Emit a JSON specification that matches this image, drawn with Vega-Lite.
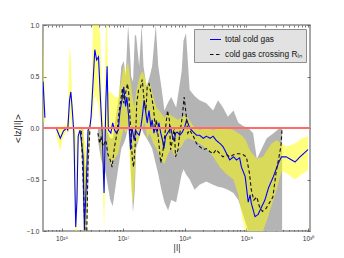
{
  "$schema": "https://vega.github.io/schema/vega-lite/v6.json",
  "width": 267,
  "height": 206,
  "autosize": {"type": "none"},
  "padding": {"left": 43, "top": 25, "right": 34, "bottom": 27},
  "datasets": {
    "grayband": [
      {"l": 2.089e26, "lo": -0.05, "hi": 0.0, "seg": 1},
      {"l": 2.239e26, "lo": -0.75, "hi": 0.0, "seg": 1},
      {"l": 2.399e26, "lo": -1.0, "hi": -0.35, "seg": 1},
      {"l": 2.570e26, "lo": -1.0, "hi": -0.4, "seg": 1},
      {"l": 2.692e26, "lo": -0.6, "hi": 0.0, "seg": 1},
      {"l": 2.884e26, "lo": -0.05, "hi": 0.0, "seg": 1},
      {"l": 3.890e26, "lo": -0.12, "hi": 0.0, "seg": 2},
      {"l": 4.365e26, "lo": -0.3, "hi": 0.0, "seg": 2},
      {"l": 5.248e26, "lo": -0.45, "hi": 0.0, "seg": 2},
      {"l": 6.166e26, "lo": -0.7, "hi": -0.1, "seg": 2},
      {"l": 6.761e26, "lo": -0.76, "hi": -0.1, "seg": 2},
      {"l": 7.586e26, "lo": -0.55, "hi": 0.1, "seg": 2},
      {"l": 8.511e26, "lo": -0.35, "hi": 0.3, "seg": 2},
      {"l": 9.333e26, "lo": -0.2, "hi": 0.6, "seg": 2},
      {"l": 1.023e27, "lo": -0.15, "hi": 0.65, "seg": 2},
      {"l": 1.096e27, "lo": -0.1, "hi": 0.5, "seg": 2},
      {"l": 1.202e27, "lo": 0.0, "hi": 1.0, "seg": 2},
      {"l": 1.288e27, "lo": -0.2, "hi": 0.75, "seg": 2},
      {"l": 1.349e27, "lo": -0.5, "hi": 0.5, "seg": 2},
      {"l": 1.445e27, "lo": -0.82, "hi": 0.45, "seg": 2},
      {"l": 1.549e27, "lo": -0.6, "hi": 0.9, "seg": 2},
      {"l": 1.622e27, "lo": -0.2, "hi": 0.9, "seg": 2},
      {"l": 1.820e27, "lo": -0.1, "hi": 0.6, "seg": 2},
      {"l": 1.995e27, "lo": 0.0, "hi": 1.0, "seg": 2},
      {"l": 2.138e27, "lo": -0.05, "hi": 0.6, "seg": 2},
      {"l": 2.399e27, "lo": -0.1, "hi": 0.4, "seg": 2},
      {"l": 2.692e27, "lo": -0.15, "hi": 0.5, "seg": 2},
      {"l": 2.951e27, "lo": -0.2, "hi": 0.6, "seg": 2},
      {"l": 3.388e27, "lo": -0.35, "hi": 1.0, "seg": 2},
      {"l": 3.715e27, "lo": -0.45, "hi": 0.6, "seg": 2},
      {"l": 4.169e27, "lo": -0.6, "hi": 0.4, "seg": 2},
      {"l": 4.677e27, "lo": -0.72, "hi": 0.17, "seg": 2},
      {"l": 5.370e27, "lo": -0.8, "hi": 0.25, "seg": 2},
      {"l": 6.026e27, "lo": -0.7, "hi": 0.3, "seg": 2},
      {"l": 7.244e27, "lo": -0.72, "hi": 0.2, "seg": 2},
      {"l": 8.913e27, "lo": -0.45, "hi": 0.55, "seg": 2},
      {"l": 9.550e27, "lo": -0.4, "hi": 0.85, "seg": 2},
      {"l": 1.047e28, "lo": -0.45, "hi": 0.92, "seg": 2},
      {"l": 1.202e28, "lo": -0.5, "hi": 0.37, "seg": 2},
      {"l": 1.445e28, "lo": -0.6, "hi": 0.31, "seg": 2},
      {"l": 1.738e28, "lo": -0.55, "hi": 0.27, "seg": 2},
      {"l": 2.239e28, "lo": -0.52, "hi": 0.24, "seg": 2},
      {"l": 2.884e28, "lo": -0.55, "hi": 0.17, "seg": 2},
      {"l": 3.467e28, "lo": -0.57, "hi": 0.27, "seg": 2},
      {"l": 4.169e28, "lo": -0.58, "hi": 0.2, "seg": 2},
      {"l": 5.012e28, "lo": -0.6, "hi": 0.11, "seg": 2},
      {"l": 6.166e28, "lo": -0.63, "hi": 0.17, "seg": 2},
      {"l": 7.413e28, "lo": -0.7, "hi": 0.05, "seg": 2},
      {"l": 8.913e28, "lo": -0.85, "hi": 0.02, "seg": 2},
      {"l": 1.072e29, "lo": -1.0, "hi": 0.0, "seg": 2},
      {"l": 1.288e29, "lo": -1.0, "hi": -0.05, "seg": 2},
      {"l": 1.479e29, "lo": -1.0, "hi": -0.3, "seg": 2},
      {"l": 1.778e29, "lo": -1.0, "hi": -0.2, "seg": 2},
      {"l": 2.138e29, "lo": -1.0, "hi": -0.1, "seg": 2},
      {"l": 2.754e29, "lo": -1.0, "hi": -0.05, "seg": 2},
      {"l": 3.467e29, "lo": -1.0, "hi": 0.0, "seg": 2},
      {"l": 3.802e29, "lo": -1.0, "hi": 0.0, "seg": 2}
    ],
    "yellowband": [
      {"l": 5.012e25, "lo": 0.05, "hi": 1.0, "seg": 1},
      {"l": 5.370e25, "lo": 0.05, "hi": 0.25, "seg": 1},
      {"l": 8.318e25, "lo": -0.08, "hi": 0.03, "seg": 2},
      {"l": 9.550e25, "lo": -0.22, "hi": 0.0, "seg": 2},
      {"l": 1.072e26, "lo": -0.08, "hi": 0.02, "seg": 2},
      {"l": 1.202e26, "lo": -0.03, "hi": 0.03, "seg": 2},
      {"l": 1.259e26, "lo": -0.05, "hi": 0.1, "seg": 2},
      {"l": 1.349e26, "lo": 0.0, "hi": 0.8, "seg": 2},
      {"l": 1.413e26, "lo": 0.1, "hi": 0.7, "seg": 2},
      {"l": 1.479e26, "lo": -0.05, "hi": 0.35, "seg": 2},
      {"l": 1.585e26, "lo": -0.2, "hi": 0.02, "seg": 2},
      {"l": 1.660e26, "lo": -1.0, "hi": 0.0, "seg": 2},
      {"l": 1.778e26, "lo": -1.0, "hi": -0.2, "seg": 2},
      {"l": 1.862e26, "lo": -0.2, "hi": 0.0, "seg": 2},
      {"l": 1.995e26, "lo": -0.08, "hi": 0.02, "seg": 2},
      {"l": 2.239e26, "lo": -0.6, "hi": 0.0, "seg": 2},
      {"l": 2.344e26, "lo": -1.0, "hi": -0.1, "seg": 2},
      {"l": 2.570e26, "lo": -1.0, "hi": -0.2, "seg": 2},
      {"l": 2.692e26, "lo": -0.3, "hi": 0.02, "seg": 2},
      {"l": 2.884e26, "lo": -0.05, "hi": 0.05, "seg": 2},
      {"l": 3.020e26, "lo": 0.0, "hi": 0.25, "seg": 2},
      {"l": 3.236e26, "lo": 0.15, "hi": 1.0, "seg": 2},
      {"l": 3.467e26, "lo": 0.3, "hi": 1.0, "seg": 2},
      {"l": 3.715e26, "lo": 0.3, "hi": 1.0, "seg": 2},
      {"l": 3.981e26, "lo": 0.2, "hi": 1.0, "seg": 2},
      {"l": 4.266e26, "lo": 0.0, "hi": 0.9, "seg": 2},
      {"l": 4.571e26, "lo": -0.4, "hi": 0.2, "seg": 2},
      {"l": 4.898e26, "lo": -1.0, "hi": 0.0, "seg": 2},
      {"l": 5.248e26, "lo": -0.2, "hi": 1.0, "seg": 2},
      {"l": 5.495e26, "lo": 0.0, "hi": 1.0, "seg": 2},
      {"l": 5.754e26, "lo": -0.3, "hi": 0.35, "seg": 2},
      {"l": 6.310e26, "lo": -0.35, "hi": 0.35, "seg": 2},
      {"l": 7.244e26, "lo": -0.3, "hi": 0.3, "seg": 2},
      {"l": 8.318e26, "lo": -0.25, "hi": 0.3, "seg": 2},
      {"l": 8.913e26, "lo": -0.15, "hi": 0.4, "seg": 2},
      {"l": 1.023e27, "lo": 0.0, "hi": 0.6, "seg": 2},
      {"l": 1.096e27, "lo": -0.05, "hi": 0.55, "seg": 2},
      {"l": 1.202e27, "lo": 0.0, "hi": 0.65, "seg": 2},
      {"l": 1.318e27, "lo": -0.45, "hi": 0.45, "seg": 2},
      {"l": 1.413e27, "lo": -0.75, "hi": 0.3, "seg": 2},
      {"l": 1.514e27, "lo": -0.6, "hi": 0.2, "seg": 2},
      {"l": 1.622e27, "lo": -0.15, "hi": 0.35, "seg": 2},
      {"l": 1.862e27, "lo": -0.1, "hi": 0.5, "seg": 2},
      {"l": 2.042e27, "lo": 0.0, "hi": 0.55, "seg": 2},
      {"l": 2.239e27, "lo": 0.05, "hi": 0.5, "seg": 2},
      {"l": 2.455e27, "lo": -0.1, "hi": 0.4, "seg": 2},
      {"l": 2.692e27, "lo": -0.05, "hi": 0.45, "seg": 2},
      {"l": 3.090e27, "lo": -0.15, "hi": 0.3, "seg": 2},
      {"l": 3.467e27, "lo": -0.2, "hi": 0.2, "seg": 2},
      {"l": 4.074e27, "lo": -0.3, "hi": 0.15, "seg": 2},
      {"l": 4.677e27, "lo": -0.35, "hi": 0.1, "seg": 2},
      {"l": 5.370e27, "lo": -0.25, "hi": 0.15, "seg": 2},
      {"l": 6.026e27, "lo": -0.2, "hi": 0.12, "seg": 2},
      {"l": 6.918e27, "lo": -0.28, "hi": 0.1, "seg": 2},
      {"l": 7.762e27, "lo": -0.2, "hi": 0.08, "seg": 2},
      {"l": 8.913e27, "lo": -0.18, "hi": 0.1, "seg": 2},
      {"l": 1.000e28, "lo": -0.12, "hi": 0.12, "seg": 2},
      {"l": 1.122e28, "lo": -0.1, "hi": 0.1, "seg": 2},
      {"l": 1.380e28, "lo": -0.12, "hi": 0.02, "seg": 2},
      {"l": 1.738e28, "lo": -0.15, "hi": -0.02, "seg": 2},
      {"l": 2.239e28, "lo": -0.2, "hi": 0.0, "seg": 2},
      {"l": 2.884e28, "lo": -0.28, "hi": -0.02, "seg": 2},
      {"l": 3.715e28, "lo": -0.38, "hi": 0.0, "seg": 2},
      {"l": 4.786e28, "lo": -0.45, "hi": 0.0, "seg": 2},
      {"l": 6.166e28, "lo": -0.5, "hi": -0.02, "seg": 2},
      {"l": 7.413e28, "lo": -0.65, "hi": -0.05, "seg": 2},
      {"l": 8.710e28, "lo": -0.9, "hi": -0.08, "seg": 2},
      {"l": 9.772e28, "lo": -1.0, "hi": -0.12, "seg": 2},
      {"l": 1.148e29, "lo": -1.0, "hi": -0.22, "seg": 2},
      {"l": 1.479e29, "lo": -1.0, "hi": -0.3, "seg": 2},
      {"l": 1.862e29, "lo": -1.0, "hi": -0.28, "seg": 2},
      {"l": 2.138e29, "lo": -0.9, "hi": -0.22, "seg": 2},
      {"l": 2.570e29, "lo": -0.75, "hi": -0.15, "seg": 2},
      {"l": 3.090e29, "lo": -0.6, "hi": -0.12, "seg": 2},
      {"l": 3.715e29, "lo": -0.42, "hi": -0.15, "seg": 2},
      {"l": 4.467e29, "lo": -0.44, "hi": -0.18, "seg": 2},
      {"l": 6.166e29, "lo": -0.5, "hi": -0.15, "seg": 2},
      {"l": 7.943e29, "lo": -0.45, "hi": -0.1, "seg": 2},
      {"l": 1.000e30, "lo": -0.41, "hi": -0.08, "seg": 2}
    ],
    "lines": [
      {"l": 5.012e25, "v": 0.45, "s": "total cold gas", "seg": 1},
      {"l": 5.370e25, "v": 0.10, "s": "total cold gas", "seg": 1},
      {"l": 8.318e25, "v": -0.01, "s": "total cold gas", "seg": 2},
      {"l": 9.550e25, "v": -0.10, "s": "total cold gas", "seg": 2},
      {"l": 1.072e26, "v": -0.03, "s": "total cold gas", "seg": 2},
      {"l": 1.202e26, "v": 0.0, "s": "total cold gas", "seg": 2},
      {"l": 1.259e26, "v": -0.02, "s": "total cold gas", "seg": 2},
      {"l": 1.349e26, "v": 0.27, "s": "total cold gas", "seg": 2},
      {"l": 1.413e26, "v": 0.35, "s": "total cold gas", "seg": 2},
      {"l": 1.479e26, "v": 0.21, "s": "total cold gas", "seg": 2},
      {"l": 1.585e26, "v": -0.05, "s": "total cold gas", "seg": 2},
      {"l": 1.698e26, "v": -0.96, "s": "total cold gas", "seg": 2},
      {"l": 1.778e26, "v": -0.70, "s": "total cold gas", "seg": 2},
      {"l": 1.862e26, "v": -0.08, "s": "total cold gas", "seg": 2},
      {"l": 1.995e26, "v": -0.02, "s": "total cold gas", "seg": 2},
      {"l": 2.239e26, "v": -0.28, "s": "total cold gas", "seg": 2},
      {"l": 2.344e26, "v": -0.99, "s": "total cold gas", "seg": 2},
      {"l": 2.512e26, "v": -0.57, "s": "total cold gas", "seg": 2},
      {"l": 2.692e26, "v": -0.02, "s": "total cold gas", "seg": 2},
      {"l": 2.884e26, "v": 0.01, "s": "total cold gas", "seg": 2},
      {"l": 3.020e26, "v": 0.11, "s": "total cold gas", "seg": 2},
      {"l": 3.236e26, "v": 0.43, "s": "total cold gas", "seg": 2},
      {"l": 3.467e26, "v": 0.76, "s": "total cold gas", "seg": 2},
      {"l": 3.715e26, "v": 0.66, "s": "total cold gas", "seg": 2},
      {"l": 3.981e26, "v": 0.69, "s": "total cold gas", "seg": 2},
      {"l": 4.266e26, "v": 0.30, "s": "total cold gas", "seg": 2},
      {"l": 4.571e26, "v": -0.05, "s": "total cold gas", "seg": 2},
      {"l": 4.898e26, "v": -0.63, "s": "total cold gas", "seg": 2},
      {"l": 5.248e26, "v": 0.27, "s": "total cold gas", "seg": 2},
      {"l": 5.495e26, "v": 0.60, "s": "total cold gas", "seg": 2},
      {"l": 5.754e26, "v": -0.02, "s": "total cold gas", "seg": 2},
      {"l": 6.310e26, "v": -0.05, "s": "total cold gas", "seg": 2},
      {"l": 6.761e26, "v": 0.05, "s": "total cold gas", "seg": 2},
      {"l": 7.244e26, "v": -0.02, "s": "total cold gas", "seg": 2},
      {"l": 7.762e26, "v": -0.05, "s": "total cold gas", "seg": 2},
      {"l": 8.318e26, "v": -0.02, "s": "total cold gas", "seg": 2},
      {"l": 8.913e26, "v": 0.17, "s": "total cold gas", "seg": 2},
      {"l": 9.550e26, "v": 0.27, "s": "total cold gas", "seg": 2},
      {"l": 1.023e27, "v": 0.40, "s": "total cold gas", "seg": 2},
      {"l": 1.096e27, "v": 0.21, "s": "total cold gas", "seg": 2},
      {"l": 1.148e27, "v": 0.30, "s": "total cold gas", "seg": 2},
      {"l": 1.230e27, "v": 0.11, "s": "total cold gas", "seg": 2},
      {"l": 1.318e27, "v": -0.21, "s": "total cold gas", "seg": 2},
      {"l": 1.380e27, "v": 0.01, "s": "total cold gas", "seg": 2},
      {"l": 1.514e27, "v": -0.12, "s": "total cold gas", "seg": 2},
      {"l": 1.585e27, "v": -0.02, "s": "total cold gas", "seg": 2},
      {"l": 1.698e27, "v": -0.05, "s": "total cold gas", "seg": 2},
      {"l": 1.820e27, "v": -0.07, "s": "total cold gas", "seg": 2},
      {"l": 1.905e27, "v": -0.02, "s": "total cold gas", "seg": 2},
      {"l": 2.042e27, "v": 0.11, "s": "total cold gas", "seg": 2},
      {"l": 2.188e27, "v": 0.27, "s": "total cold gas", "seg": 2},
      {"l": 2.344e27, "v": 0.14, "s": "total cold gas", "seg": 2},
      {"l": 2.455e27, "v": 0.05, "s": "total cold gas", "seg": 2},
      {"l": 2.630e27, "v": 0.17, "s": "total cold gas", "seg": 2},
      {"l": 2.818e27, "v": 0.01, "s": "total cold gas", "seg": 2},
      {"l": 2.951e27, "v": 0.08, "s": "total cold gas", "seg": 2},
      {"l": 3.162e27, "v": -0.05, "s": "total cold gas", "seg": 2},
      {"l": 3.311e27, "v": 0.01, "s": "total cold gas", "seg": 2},
      {"l": 3.548e27, "v": -0.04, "s": "total cold gas", "seg": 2},
      {"l": 3.802e27, "v": 0.05, "s": "total cold gas", "seg": 2},
      {"l": 4.074e27, "v": -0.05, "s": "total cold gas", "seg": 2},
      {"l": 4.365e27, "v": -0.12, "s": "total cold gas", "seg": 2},
      {"l": 4.571e27, "v": -0.20, "s": "total cold gas", "seg": 2},
      {"l": 4.898e27, "v": -0.08, "s": "total cold gas", "seg": 2},
      {"l": 5.248e27, "v": -0.05, "s": "total cold gas", "seg": 2},
      {"l": 5.623e27, "v": -0.02, "s": "total cold gas", "seg": 2},
      {"l": 5.888e27, "v": 0.01, "s": "total cold gas", "seg": 2},
      {"l": 6.310e27, "v": -0.08, "s": "total cold gas", "seg": 2},
      {"l": 6.761e27, "v": -0.13, "s": "total cold gas", "seg": 2},
      {"l": 7.079e27, "v": -0.05, "s": "total cold gas", "seg": 2},
      {"l": 7.586e27, "v": -0.04, "s": "total cold gas", "seg": 2},
      {"l": 8.318e27, "v": -0.07, "s": "total cold gas", "seg": 2},
      {"l": 9.120e27, "v": -0.04, "s": "total cold gas", "seg": 2},
      {"l": 1.000e28, "v": 0.01, "s": "total cold gas", "seg": 2},
      {"l": 1.072e28, "v": 0.08, "s": "total cold gas", "seg": 2},
      {"l": 1.122e28, "v": 0.05, "s": "total cold gas", "seg": 2},
      {"l": 1.202e28, "v": 0.0, "s": "total cold gas", "seg": 2},
      {"l": 1.380e28, "v": -0.04, "s": "total cold gas", "seg": 2},
      {"l": 1.549e28, "v": -0.07, "s": "total cold gas", "seg": 2},
      {"l": 1.738e28, "v": -0.07, "s": "total cold gas", "seg": 2},
      {"l": 1.995e28, "v": -0.10, "s": "total cold gas", "seg": 2},
      {"l": 2.239e28, "v": -0.08, "s": "total cold gas", "seg": 2},
      {"l": 2.570e28, "v": -0.10, "s": "total cold gas", "seg": 2},
      {"l": 2.884e28, "v": -0.08, "s": "total cold gas", "seg": 2},
      {"l": 3.236e28, "v": -0.12, "s": "total cold gas", "seg": 2},
      {"l": 3.715e28, "v": -0.15, "s": "total cold gas", "seg": 2},
      {"l": 4.169e28, "v": -0.18, "s": "total cold gas", "seg": 2},
      {"l": 4.786e28, "v": -0.25, "s": "total cold gas", "seg": 2},
      {"l": 5.370e28, "v": -0.31, "s": "total cold gas", "seg": 2},
      {"l": 6.166e28, "v": -0.28, "s": "total cold gas", "seg": 2},
      {"l": 6.918e28, "v": -0.31, "s": "total cold gas", "seg": 2},
      {"l": 7.762e28, "v": -0.29, "s": "total cold gas", "seg": 2},
      {"l": 8.318e28, "v": -0.38, "s": "total cold gas", "seg": 2},
      {"l": 9.550e28, "v": -0.47, "s": "total cold gas", "seg": 2},
      {"l": 1.072e29, "v": -0.72, "s": "total cold gas", "seg": 2},
      {"l": 1.148e29, "v": -0.65, "s": "total cold gas", "seg": 2},
      {"l": 1.202e29, "v": -0.73, "s": "total cold gas", "seg": 2},
      {"l": 1.380e29, "v": -0.86, "s": "total cold gas", "seg": 2},
      {"l": 1.549e29, "v": -0.84, "s": "total cold gas", "seg": 2},
      {"l": 1.660e29, "v": -0.80, "s": "total cold gas", "seg": 2},
      {"l": 1.995e29, "v": -0.70, "s": "total cold gas", "seg": 2},
      {"l": 2.291e29, "v": -0.58, "s": "total cold gas", "seg": 2},
      {"l": 2.754e29, "v": -0.47, "s": "total cold gas", "seg": 2},
      {"l": 3.311e29, "v": -0.34, "s": "total cold gas", "seg": 2},
      {"l": 3.715e29, "v": -0.28, "s": "total cold gas", "seg": 2},
      {"l": 4.467e29, "v": -0.28, "s": "total cold gas", "seg": 2},
      {"l": 6.166e29, "v": -0.33, "s": "total cold gas", "seg": 2},
      {"l": 7.413e29, "v": -0.28, "s": "total cold gas", "seg": 2},
      {"l": 1.000e30, "v": -0.21, "s": "total cold gas", "seg": 2},
      {"l": 2.089e26, "v": -0.03, "s": "cold gas crossing Rᵢₙ", "seg": 3},
      {"l": 2.239e26, "v": -0.50, "s": "cold gas crossing Rᵢₙ", "seg": 3},
      {"l": 2.399e26, "v": -1.0, "s": "cold gas crossing Rᵢₙ", "seg": 3},
      {"l": 2.570e26, "v": -1.0, "s": "cold gas crossing Rᵢₙ", "seg": 3},
      {"l": 2.692e26, "v": -0.31, "s": "cold gas crossing Rᵢₙ", "seg": 3},
      {"l": 2.884e26, "v": -0.02, "s": "cold gas crossing Rᵢₙ", "seg": 3},
      {"l": 3.890e26, "v": -0.05, "s": "cold gas crossing Rᵢₙ", "seg": 4},
      {"l": 4.169e26, "v": -0.15, "s": "cold gas crossing Rᵢₙ", "seg": 4},
      {"l": 4.365e26, "v": -0.08, "s": "cold gas crossing Rᵢₙ", "seg": 4},
      {"l": 4.677e26, "v": -0.18, "s": "cold gas crossing Rᵢₙ", "seg": 4},
      {"l": 5.248e26, "v": -0.12, "s": "cold gas crossing Rᵢₙ", "seg": 4},
      {"l": 5.623e26, "v": -0.25, "s": "cold gas crossing Rᵢₙ", "seg": 4},
      {"l": 6.166e26, "v": -0.31, "s": "cold gas crossing Rᵢₙ", "seg": 4},
      {"l": 6.607e26, "v": -0.38, "s": "cold gas crossing Rᵢₙ", "seg": 4},
      {"l": 7.244e26, "v": -0.18, "s": "cold gas crossing Rᵢₙ", "seg": 4},
      {"l": 7.943e26, "v": -0.05, "s": "cold gas crossing Rᵢₙ", "seg": 4},
      {"l": 8.511e26, "v": 0.14, "s": "cold gas crossing Rᵢₙ", "seg": 4},
      {"l": 9.120e26, "v": 0.27, "s": "cold gas crossing Rᵢₙ", "seg": 4},
      {"l": 9.772e26, "v": 0.39, "s": "cold gas crossing Rᵢₙ", "seg": 4},
      {"l": 1.023e27, "v": 0.24, "s": "cold gas crossing Rᵢₙ", "seg": 4},
      {"l": 1.096e27, "v": 0.34, "s": "cold gas crossing Rᵢₙ", "seg": 4},
      {"l": 1.175e27, "v": 0.43, "s": "cold gas crossing Rᵢₙ", "seg": 4},
      {"l": 1.230e27, "v": 0.34, "s": "cold gas crossing Rᵢₙ", "seg": 4},
      {"l": 1.318e27, "v": 0.01, "s": "cold gas crossing Rᵢₙ", "seg": 4},
      {"l": 1.413e27, "v": -0.31, "s": "cold gas crossing Rᵢₙ", "seg": 4},
      {"l": 1.479e27, "v": -0.38, "s": "cold gas crossing Rᵢₙ", "seg": 4},
      {"l": 1.585e27, "v": -0.12, "s": "cold gas crossing Rᵢₙ", "seg": 4},
      {"l": 1.660e27, "v": 0.24, "s": "cold gas crossing Rᵢₙ", "seg": 4},
      {"l": 1.778e27, "v": 0.37, "s": "cold gas crossing Rᵢₙ", "seg": 4},
      {"l": 1.905e27, "v": 0.39, "s": "cold gas crossing Rᵢₙ", "seg": 4},
      {"l": 2.042e27, "v": 0.47, "s": "cold gas crossing Rᵢₙ", "seg": 4},
      {"l": 2.188e27, "v": 0.27, "s": "cold gas crossing Rᵢₙ", "seg": 4},
      {"l": 2.344e27, "v": 0.17, "s": "cold gas crossing Rᵢₙ", "seg": 4},
      {"l": 2.455e27, "v": 0.40, "s": "cold gas crossing Rᵢₙ", "seg": 4},
      {"l": 2.630e27, "v": 0.43, "s": "cold gas crossing Rᵢₙ", "seg": 4},
      {"l": 2.818e27, "v": 0.34, "s": "cold gas crossing Rᵢₙ", "seg": 4},
      {"l": 3.090e27, "v": 0.21, "s": "cold gas crossing Rᵢₙ", "seg": 4},
      {"l": 3.311e27, "v": 0.01, "s": "cold gas crossing Rᵢₙ", "seg": 4},
      {"l": 3.467e27, "v": 0.08, "s": "cold gas crossing Rᵢₙ", "seg": 4},
      {"l": 3.802e27, "v": -0.15, "s": "cold gas crossing Rᵢₙ", "seg": 4},
      {"l": 4.074e27, "v": -0.34, "s": "cold gas crossing Rᵢₙ", "seg": 4},
      {"l": 4.365e27, "v": -0.25, "s": "cold gas crossing Rᵢₙ", "seg": 4},
      {"l": 4.571e27, "v": -0.15, "s": "cold gas crossing Rᵢₙ", "seg": 4},
      {"l": 4.898e27, "v": 0.01, "s": "cold gas crossing Rᵢₙ", "seg": 4},
      {"l": 5.248e27, "v": 0.17, "s": "cold gas crossing Rᵢₙ", "seg": 4},
      {"l": 5.623e27, "v": 0.08, "s": "cold gas crossing Rᵢₙ", "seg": 4},
      {"l": 5.888e27, "v": -0.21, "s": "cold gas crossing Rᵢₙ", "seg": 4},
      {"l": 6.310e27, "v": -0.12, "s": "cold gas crossing Rᵢₙ", "seg": 4},
      {"l": 6.761e27, "v": 0.01, "s": "cold gas crossing Rᵢₙ", "seg": 4},
      {"l": 7.079e27, "v": -0.28, "s": "cold gas crossing Rᵢₙ", "seg": 4},
      {"l": 7.762e27, "v": -0.21, "s": "cold gas crossing Rᵢₙ", "seg": 4},
      {"l": 8.318e27, "v": -0.05, "s": "cold gas crossing Rᵢₙ", "seg": 4},
      {"l": 9.120e27, "v": 0.11, "s": "cold gas crossing Rᵢₙ", "seg": 4},
      {"l": 9.772e27, "v": 0.30, "s": "cold gas crossing Rᵢₙ", "seg": 4},
      {"l": 1.047e28, "v": 0.14, "s": "cold gas crossing Rᵢₙ", "seg": 4},
      {"l": 1.122e28, "v": -0.05, "s": "cold gas crossing Rᵢₙ", "seg": 4},
      {"l": 1.202e28, "v": -0.02, "s": "cold gas crossing Rᵢₙ", "seg": 4},
      {"l": 1.380e28, "v": -0.08, "s": "cold gas crossing Rᵢₙ", "seg": 4},
      {"l": 1.549e28, "v": -0.15, "s": "cold gas crossing Rᵢₙ", "seg": 4},
      {"l": 1.738e28, "v": -0.18, "s": "cold gas crossing Rᵢₙ", "seg": 4},
      {"l": 1.995e28, "v": -0.21, "s": "cold gas crossing Rᵢₙ", "seg": 4},
      {"l": 2.239e28, "v": -0.20, "s": "cold gas crossing Rᵢₙ", "seg": 4},
      {"l": 2.570e28, "v": -0.23, "s": "cold gas crossing Rᵢₙ", "seg": 4},
      {"l": 2.884e28, "v": -0.25, "s": "cold gas crossing Rᵢₙ", "seg": 4},
      {"l": 3.236e28, "v": -0.21, "s": "cold gas crossing Rᵢₙ", "seg": 4},
      {"l": 3.715e28, "v": -0.25, "s": "cold gas crossing Rᵢₙ", "seg": 4},
      {"l": 4.169e28, "v": -0.28, "s": "cold gas crossing Rᵢₙ", "seg": 4},
      {"l": 4.786e28, "v": -0.26, "s": "cold gas crossing Rᵢₙ", "seg": 4},
      {"l": 5.370e28, "v": -0.28, "s": "cold gas crossing Rᵢₙ", "seg": 4},
      {"l": 6.166e28, "v": -0.26, "s": "cold gas crossing Rᵢₙ", "seg": 4},
      {"l": 6.918e28, "v": -0.25, "s": "cold gas crossing Rᵢₙ", "seg": 4},
      {"l": 7.762e28, "v": -0.25, "s": "cold gas crossing Rᵢₙ", "seg": 4},
      {"l": 8.913e28, "v": -0.26, "s": "cold gas crossing Rᵢₙ", "seg": 4},
      {"l": 1.000e29, "v": -0.28, "s": "cold gas crossing Rᵢₙ", "seg": 4},
      {"l": 1.122e29, "v": -0.44, "s": "cold gas crossing Rᵢₙ", "seg": 4},
      {"l": 1.202e29, "v": -0.60, "s": "cold gas crossing Rᵢₙ", "seg": 4},
      {"l": 1.318e29, "v": -0.70, "s": "cold gas crossing Rᵢₙ", "seg": 4},
      {"l": 1.479e29, "v": -0.67, "s": "cold gas crossing Rᵢₙ", "seg": 4},
      {"l": 1.622e29, "v": -0.76, "s": "cold gas crossing Rᵢₙ", "seg": 4},
      {"l": 1.820e29, "v": -0.81, "s": "cold gas crossing Rᵢₙ", "seg": 4},
      {"l": 2.089e29, "v": -0.78, "s": "cold gas crossing Rᵢₙ", "seg": 4},
      {"l": 2.344e29, "v": -0.73, "s": "cold gas crossing Rᵢₙ", "seg": 4},
      {"l": 2.692e29, "v": -0.67, "s": "cold gas crossing Rᵢₙ", "seg": 4},
      {"l": 3.020e29, "v": -0.44, "s": "cold gas crossing Rᵢₙ", "seg": 4},
      {"l": 3.311e29, "v": -0.31, "s": "cold gas crossing Rᵢₙ", "seg": 4},
      {"l": 3.631e29, "v": -0.18, "s": "cold gas crossing Rᵢₙ", "seg": 4},
      {"l": 3.802e29, "v": 0.0, "s": "cold gas crossing Rᵢₙ", "seg": 4}
    ],
    "zero": [{"y": 0}]
  },
  "layer": [
    {
      "data": {"name": "grayband"},
      "mark": {"type": "area", "color": "#b4b4b4", "opacity": 1, "clip": true},
      "encoding": {
        "x": {"field": "l", "type": "quantitative",
          "scale": {"type": "log", "domain": [5.0e25, 1.078e30], "nice": false},
          "axis": {"orient": "bottom", "values": [1e26, 1e27, 1e28, 1e29, 1e30],
            "labelExpr": "datum.value >= 9e29 ? '10³⁰' : datum.value >= 9e28 ? '10²⁹' : datum.value >= 9e27 ? '10²⁸' : datum.value >= 9e26 ? '10²⁷' : '10²⁶'",
            "tickSize": -3, "labelPadding": 7, "title": "|l|", "titleFont": "DejaVu Sans", "titleFontSize": 8, "titlePadding": 3}},
        "y": {"field": "lo", "type": "quantitative",
          "scale": {"domain": [-1, 1], "nice": false},
          "axis": {"orient": "left", "values": [-1, -0.5, 0, 0.5, 1], "format": ".1f",
            "tickSize": -3, "labelPadding": 7, "title": "<lz/|l|>", "titleFont": "DejaVu Sans", "titleFontSize": 8, "titlePadding": 4}},
        "y2": {"field": "hi"},
        "detail": {"field": "seg"}
      }
    },
    {
      "data": {"name": "yellowband"},
      "mark": {"type": "area", "color": "#ffff00", "opacity": 0.5, "clip": true},
      "encoding": {
        "x": {"field": "l", "type": "quantitative",
          "axis": {"orient": "bottom", "labels": false, "title": null, "tickSize": -1.5,
            "values": [6e25, 7e25, 8e25, 9e25, 2e26, 3e26, 4e26, 5e26, 6e26, 7e26, 8e26, 9e26, 2e27, 3e27, 4e27, 5e27, 6e27, 7e27, 8e27, 9e27, 2e28, 3e28, 4e28, 5e28, 6e28, 7e28, 8e28, 9e28, 2e29, 3e29, 4e29, 5e29, 6e29, 7e29, 8e29, 9e29]}},
        "y": {"field": "lo", "type": "quantitative",
          "axis": {"orient": "right", "labels": false, "title": null, "tickSize": -3, "values": [-1, -0.5, 0, 0.5, 1]}},
        "y2": {"field": "hi"},
        "detail": {"field": "seg"}
      }
    },
    {
      "data": {"name": "lines"},
      "mark": {"type": "line", "strokeWidth": 1.1, "clip": true},
      "encoding": {
        "x": {"field": "l", "type": "quantitative",
          "axis": {"orient": "top", "labels": false, "title": null, "tickSize": -2,
            "values": [6e25, 7e25, 8e25, 9e25, 1e26, 2e26, 3e26, 4e26, 5e26, 6e26, 7e26, 8e26, 9e26, 1e27, 2e27, 3e27, 4e27, 5e27, 6e27, 7e27, 8e27, 9e27, 1e28, 2e28, 3e28, 4e28, 5e28, 6e28, 7e28, 8e28, 9e28, 1e29, 2e29, 3e29, 4e29, 5e29, 6e29, 7e29, 8e29, 9e29, 1e30]}},
        "y": {"field": "v", "type": "quantitative", "axis": null},
        "color": {"field": "s", "type": "nominal",
          "scale": {"domain": ["total cold gas", "cold gas crossing Rᵢₙ"], "range": ["#0000ff", "#111111"]},
          "legend": {"title": null}},
        "strokeDash": {"field": "s", "type": "nominal",
          "scale": {"domain": ["total cold gas", "cold gas crossing Rᵢₙ"], "range": [[1, 0], [3.5, 2.5]]},
          "legend": {"title": null}},
        "detail": {"field": "seg"}
      }
    },
    {
      "data": {"name": "zero"},
      "mark": {"type": "rule", "color": "#ff6b6b", "strokeWidth": 2, "clip": true},
      "encoding": {"y": {"field": "y", "type": "quantitative", "axis": null}}
    }
  ],
  "resolve": {"axis": {"x": "independent", "y": "independent"}},
  "config": {
    "view": {"stroke": "#8c8c8c", "strokeWidth": 1.5},
    "axis": {"grid": false, "domain": false, "labelFont": "Liberation Sans", "titleFont": "Liberation Sans",
      "labelFontSize": 6.5, "labelColor": "#333333", "titleColor": "#222222", "titleFontWeight": "normal",
      "tickColor": "#555555", "tickWidth": 0.8},
    "legend": {"orient": "top-right", "offset": 4, "fillColor": "rgb(226,226,226)", "strokeColor": "#8f8f8f", "strokeWidth": 1,
      "padding": 4, "symbolType": "stroke", "symbolSize": 121, "symbolStrokeWidth": 1.2, "symbolOffset": 11,
      "labelFont": "Liberation Sans", "labelFontSize": 8.3, "labelColor": "#111111", "labelOffset": 3, "rowPadding": 5}
  }
}
